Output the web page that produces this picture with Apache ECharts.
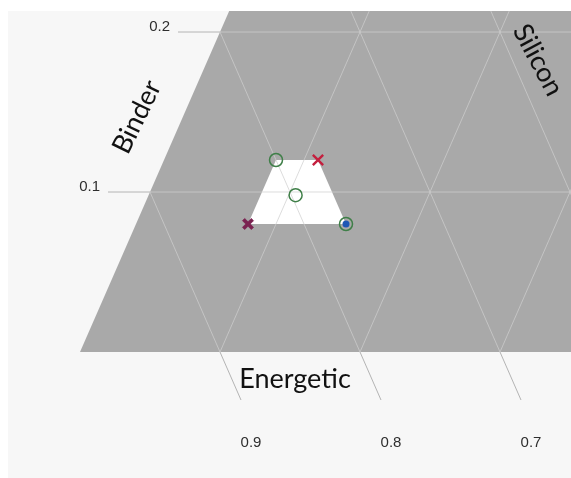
<!DOCTYPE html>
<html>
<head>
<meta charset="utf-8">
<script src="https://cdn.jsdelivr.net/npm/echarts@6/dist/echarts.min.js"></script>
<style>
  html, body { margin: 0; padding: 0; background: #ffffff; }
  #chart { width: 571px; height: 478px; }
</style>
</head>
<body>
<div id="chart"></div>
<script>
// Ternary composition: Energetic + Binder + Silicon = 1 (mass fractions)
const binderTicks = [0.1, 0.2];
const energeticTicks = [0.9, 0.8, 0.7];
const gridLevels = [0.1, 0.2, 0.3, 0.4, 0.5, 0.6, 0.7, 0.8, 0.9];

// Allowed formulation window (binder, silicon)
const regionBinder = [0.08, 0.08, 0.12, 0.12];
const regionSilicon = [0.08, 0.15, 0.11, 0.08];

// Candidate formulations
const candidateBinder = [0.12, 0.098, 0.08];
const candidateSilicon = [0.08, 0.105, 0.15];
const bestBinder = [0.08];
const bestSilicon = [0.15];
const rejectedBinder = [0.12];
const rejectedSilicon = [0.11];
const failedBinder = [0.08];
const failedSilicon = [0.08];

// ternary (binder, silicon) -> cartesian data space
function tern(b, s) { return [s + b / 2, b]; }
function pts(bs, ss) { return bs.map((b, i) => tern(b, ss[i])); }

const FILL = '#a9a9a9';
const GRID_LINE = 'rgba(207,207,207,0.72)';
const TICK_LINE = '#b4b4b4';
const TICK_LEN = 0.03;
const LABEL_FONT = '15px "Liberation Sans", Arial, sans-serif';
const TITLE_FONT = '27px Lato, "Open Sans", sans-serif';

const chart = echarts.init(document.getElementById('chart'), null, { renderer: 'canvas' });

function lineEl(api, p1, p2, stroke, width) {
  const a = api.coord(p1), b = api.coord(p2);
  return {
    type: 'line',
    shape: { x1: a[0], y1: a[1], x2: b[0], y2: b[1] },
    style: { stroke: stroke, lineWidth: width }
  };
}

const thinCross = 'path://M1.4,0L5,3.6L8.6,0L10,1.4L6.4,5L10,8.6L8.6,10L5,6.4L1.4,10L0,8.6L3.6,5L0,1.4Z';
const boldCross = 'path://M2,0L5,3L8,0L10,2L7,5L10,8L8,10L5,7L2,10L0,8L3,5L0,2Z';

chart.setOption({
  backgroundColor: '#ffffff',
  animation: false,
  grid: { left: 80, right: 0, top: 11, bottom: 126, containLabel: false },
  xAxis: { type: 'value', min: 0, max: 491 / 1400, show: false },
  yAxis: { type: 'value', min: 0, max: 341 / 1600, show: false },
  graphic: [
    { type: 'rect', z: -100, shape: { x: 8, y: 11, width: 563, height: 467 }, style: { fill: '#f7f7f7' } },
    { type: 'text', z: 100, x: 295, y: 379,
      style: { text: 'Energetic', font: TITLE_FONT, fill: '#111111',
               align: 'center', verticalAlign: 'middle', textAlign: 'center', textVerticalAlign: 'middle' } },
    { type: 'text', z: 100, x: 137, y: 117, rotation: 64 * Math.PI / 180,
      style: { text: 'Binder', font: TITLE_FONT, fill: '#111111',
               align: 'center', verticalAlign: 'middle', textAlign: 'center', textVerticalAlign: 'middle' } },
    { type: 'text', z: 100, x: 538, y: 60, rotation: -62 * Math.PI / 180,
      style: { text: 'Silicon', font: TITLE_FONT, fill: '#111111',
               align: 'center', verticalAlign: 'middle', textAlign: 'center', textVerticalAlign: 'middle' } }
  ],
  series: [
    {
      // triangle body, allowed window and grid, clipped to the plotting area
      type: 'custom',
      coordinateSystem: 'cartesian2d',
      clip: true,
      silent: true,
      z: 1,
      data: [[0, 0]],
      renderItem: function (params, api) {
        const children = [];
        const tri = [tern(0, 0), tern(0, 1), tern(1, 0)].map(p => api.coord(p));
        children.push({ type: 'polygon', shape: { points: tri }, style: { fill: FILL } });
        const win = pts(regionBinder, regionSilicon).map(p => api.coord(p));
        children.push({ type: 'polygon', shape: { points: win }, style: { fill: '#ffffff' } });
        gridLevels.forEach(v => {
          // constant binder
          children.push(lineEl(api, tern(v, 0), tern(v, 1 - v), GRID_LINE, 1));
          // constant silicon
          children.push(lineEl(api, tern(0, v), tern(1 - v, v), GRID_LINE, 1));
          // constant energetic
          children.push(lineEl(api, tern(0, 1 - v), tern(1 - v, 0), GRID_LINE, 1));
        });
        return { type: 'group', children: children };
      }
    },
    {
      // axis ticks and tick labels outside the triangle
      type: 'custom',
      coordinateSystem: 'cartesian2d',
      clip: false,
      silent: true,
      z: 3,
      data: [[0, 0]],
      renderItem: function (params, api) {
        const children = [];
        binderTicks.forEach(v => {
          children.push(lineEl(api, tern(v, 0), tern(v, -TICK_LEN), TICK_LINE, 1));
          const end = api.coord(tern(v, -TICK_LEN));
          children.push({
            type: 'text', x: end[0] - 8, y: end[1] - 5,
            style: { text: String(v), font: LABEL_FONT, fill: '#2e2e2e',
                     align: 'right', verticalAlign: 'middle', textAlign: 'right', textVerticalAlign: 'middle' }
          });
        });
        energeticTicks.forEach(v => {
          const s = 1 - v;
          children.push(lineEl(api, tern(0, s), tern(-TICK_LEN, s + TICK_LEN), TICK_LINE, 1));
          const end = api.coord(tern(-TICK_LEN, s + TICK_LEN));
          children.push({
            type: 'text', x: end[0] + 10, y: end[1] + 43,
            style: { text: String(v), font: LABEL_FONT, fill: '#2e2e2e',
                     align: 'center', verticalAlign: 'middle', textAlign: 'center', textVerticalAlign: 'middle' }
          });
        });
        return { type: 'group', children: children };
      }
    },
    {
      name: 'Best',
      type: 'scatter',
      z: 5,
      symbol: 'circle',
      symbolSize: 7,
      itemStyle: { color: '#1f57b5', opacity: 1 },
      data: pts(bestBinder, bestSilicon)
    },
    {
      name: 'Candidates',
      type: 'scatter',
      z: 6,
      symbol: 'circle',
      symbolSize: 13,
      itemStyle: { color: 'rgba(0,0,0,0)', borderColor: '#3f7f48', borderWidth: 1.5, opacity: 1 },
      data: pts(candidateBinder, candidateSilicon)
    },
    {
      name: 'Rejected',
      type: 'scatter',
      z: 6,
      symbol: thinCross,
      symbolSize: 12,
      itemStyle: { color: '#c41f3e', opacity: 1 },
      data: pts(rejectedBinder, rejectedSilicon)
    },
    {
      name: 'Failed',
      type: 'scatter',
      z: 6,
      symbol: boldCross,
      symbolSize: 11,
      itemStyle: { color: '#7a2150', borderColor: '#7a2150', borderWidth: 0.8, opacity: 1 },
      data: pts(failedBinder, failedSilicon)
    }
  ]
});
</script>
</body>
</html>
